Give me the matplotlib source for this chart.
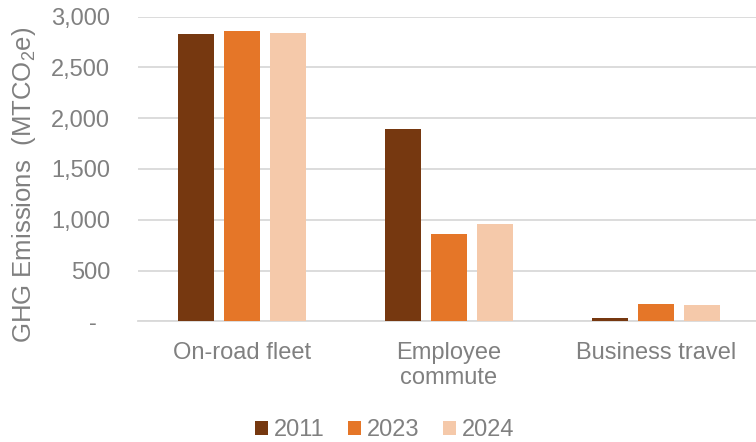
import matplotlib
matplotlib.use("Agg")
import matplotlib.pyplot as plt
import numpy as np
from matplotlib.ticker import FuncFormatter, FixedLocator

plt.rcParams['font.family'] = ['Liberation Sans', 'DejaVu Sans']
plt.rcParams['mathtext.fontset'] = 'custom'
plt.rcParams['mathtext.rm'] = 'Liberation Sans'

categories = ["On-road fleet", "Employee\ncommute", "Business travel"]
years = ["2011", "2023", "2024"]
v2011 = [2830, 1895, 30]
v2023 = [2857, 863, 170]
v2024 = [2837, 962, 162]
series = [v2011, v2023, v2024]
colors = ["#763810", "#E57628", "#F5C9AA"]
yticks = [0, 500, 1000, 1500, 2000, 2500, 3000]

text_color = "#808080"
fig = plt.figure(figsize=(7.56, 4.42), dpi=100)
W, H = 756, 442
ax = fig.add_axes([138 / W, 1 - 321.3 / H, (756 - 138) / W, (321.3 - 16.7) / H])

x = np.arange(len(categories))
width = 0.174
offset = 0.222
for i, (vals, c, lab) in enumerate(zip(series, colors, years)):
    ax.bar(x + (i - 1) * offset, vals, width, color=c, label=lab, zorder=3)

ax.set_xlim(-0.502, 2.483)
ax.set_ylim(0, 3000)
ax.yaxis.set_major_locator(FixedLocator(yticks))
ax.yaxis.set_major_formatter(FuncFormatter(lambda v, p: "-  " if v == 0 else f"{int(v):,}"))
ax.grid(axis='y', color='#D9D9D9', linewidth=1.3, zorder=0)
ax.set_axisbelow(True)
for s in ['top', 'right', 'left']:
    ax.spines[s].set_visible(False)
ax.spines['bottom'].set_color('#D9D9D9')
ax.spines['bottom'].set_linewidth(1.3)
ax.tick_params(axis='both', length=0, labelsize=17, colors=text_color)
ax.tick_params(axis='y', pad=20)
ax.tick_params(axis='x', pad=15)
ax.set_xticks(x)
ax.set_xticklabels(categories, linespacing=1.15)

ax.set_ylabel(r"GHG Emissions  (MTCO$_\mathregular{2}$e)", fontsize=18.5, color=text_color)
ax.yaxis.set_label_coords(-0.162, 0.447)

leg = fig.legend(loc='center', bbox_to_anchor=(385 / W, 1 - 430 / H), ncol=3, frameon=False,
                 fontsize=17, handlelength=0.55, handleheight=0.55, handletextpad=0.25,
                 columnspacing=1.0)
for t in leg.get_texts():
    t.set_color(text_color)

fig.savefig("out.png", dpi=100)
